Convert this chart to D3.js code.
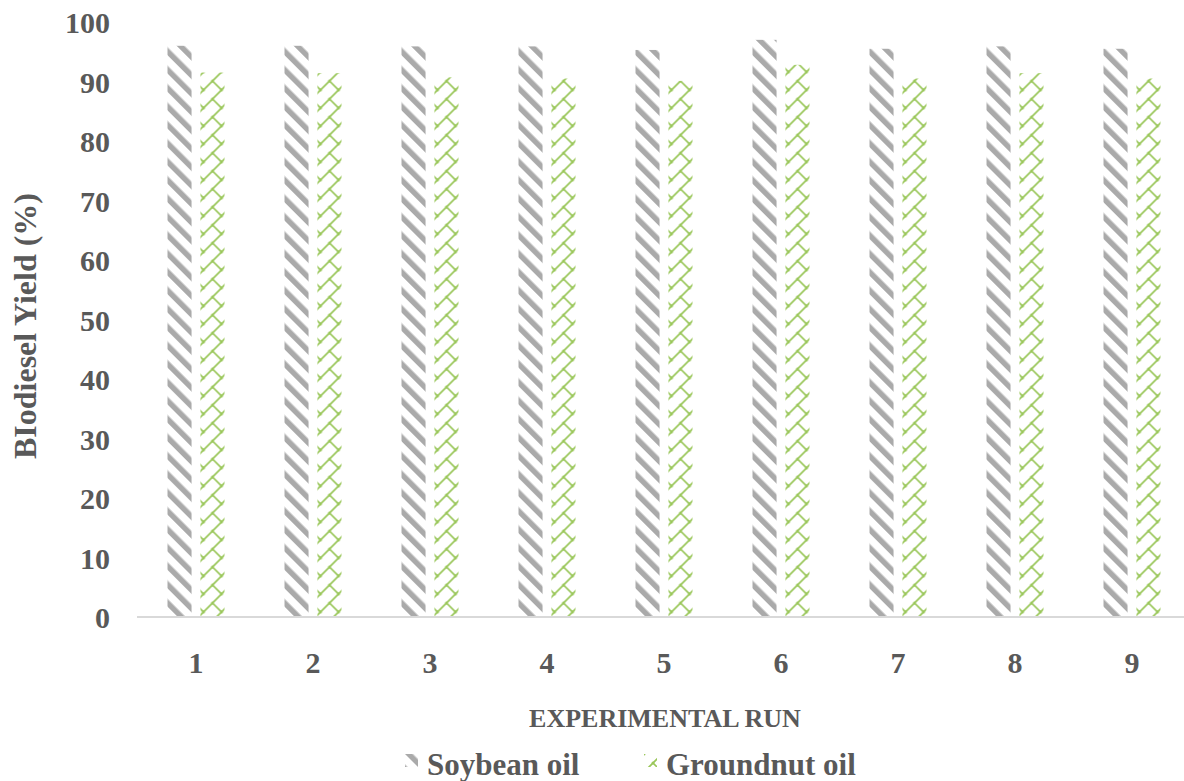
<!DOCTYPE html>
<html><head><meta charset="utf-8">
<script src="https://cdn.jsdelivr.net/npm/d3@7"></script>
<style>body{margin:0;background:#fff}svg{display:block}</style>
</head><body>
<svg id="c" width="1184" height="781"></svg>
<script>
const categories = ["1","2","3","4","5","6","7","8","9"];
const soybean   = [96.0, 96.0, 95.9, 95.9, 95.3, 97.0, 95.5, 95.9, 95.5];
const groundnut = [91.5, 91.4, 90.7, 90.5, 90.1, 92.8, 90.5, 91.4, 90.5];
const seriesNames = ["Soybean oil", "Groundnut oil"];
const yTicks = [0,10,20,30,40,50,60,70,80,90,100];

const svg = d3.select("#c");
const font = "'Liberation Serif','Times New Roman',serif";
const txt = "#595959";

const defs = svg.append("defs");
const p1 = defs.append("pattern").attr("id","soy").attr("patternUnits","userSpaceOnUse")
  .attr("width",13).attr("height",13).attr("patternTransform","rotate(-45)");
p1.append("rect").attr("width",13).attr("height",13).attr("fill","#fff");
p1.append("rect").attr("x",0).attr("width",5.5).attr("height",13).attr("fill","#aaaaaa");
const gc = "#9ac75a";
const p2 = defs.append("pattern").attr("id","gnut").attr("patternUnits","userSpaceOnUse")
  .attr("width",18).attr("height",18);
p2.append("rect").attr("width",18).attr("height",18).attr("fill","#fff");
p2.append("path").attr("d","M-2,20 L20,-2 M9,9 L18,18 M-9,9 L0,18 M9,-9 L18,0")
  .attr("stroke",gc).attr("stroke-width",1.7).attr("fill","none");
[[9,9],[0,18],[18,0],[18,18],[0,0]].forEach(([cx,cy])=>
  p2.append("circle").attr("cx",cx).attr("cy",cy).attr("r",1.5).attr("fill",gc));
const fills = ["url(#soy)","url(#gnut)"];

const y = d3.scaleLinear().domain([0,100]).range([617,22]);
const x0 = d3.scaleBand().domain(categories).range([137.5,1190.5]).paddingInner(0.513).paddingOuter(0.2565);
const x1 = d3.scaleBand().domain(seriesNames).range([0,x0.bandwidth()]).paddingInner(0.27);

const data = categories.map((c,i)=>({cat:c, vals:[soybean[i], groundnut[i]]}));
const g = svg.selectAll("g.cat").data(data).enter().append("g")
  .attr("transform",d=>`translate(${x0(d.cat)},0)`);
g.selectAll("rect").data(d=>d.vals.map((v,j)=>({v,name:seriesNames[j],j}))).enter().append("rect")
  .attr("x",d=>x1(d.name)).attr("width",x1.bandwidth())
  .attr("y",d=>y(d.v)).attr("height",d=>y(0)-y(d.v))
  .attr("fill",d=>fills[d.j]);

// x axis line
svg.append("line").attr("x1",137).attr("x2",1190).attr("y1",y(0)).attr("y2",y(0))
  .attr("stroke","#d9d9d9").attr("stroke-width",2);

// y tick labels
const yAxis = svg.append("g").attr("transform","translate(110,0)")
  .call(d3.axisLeft(y).tickValues(yTicks).tickSize(0).tickPadding(0));
yAxis.select(".domain").remove();
yAxis.selectAll("text").attr("font-family",font).attr("font-weight","bold")
  .attr("font-size",30).attr("fill",txt).attr("dy","0.35em");

// x tick labels
const xAxis = svg.append("g").attr("transform",`translate(0,${y(0)})`)
  .call(d3.axisBottom(x0).tickSize(0).tickPadding(0));
xAxis.select(".domain").remove();
xAxis.selectAll("text").attr("font-family",font).attr("font-weight","bold")
  .attr("font-size",30).attr("fill",txt).attr("y",56).attr("dy","0");

svg.append("text").attr("x",665).attr("y",727).attr("text-anchor","middle")
  .attr("font-family",font).attr("font-weight","bold").attr("font-size",26).attr("fill",txt)
  .text("EXPERIMENTAL RUN");
svg.append("text").attr("transform","translate(36,326) rotate(-90)").attr("text-anchor","middle")
  .attr("font-family",font).attr("font-weight","bold").attr("font-size",32).attr("fill",txt)
  .text("BIodiesel Yield (%)");

// legend
const legX = [405, 644];
const lg = svg.selectAll("g.leg").data(seriesNames).enter().append("g")
  .attr("transform",(d,i)=>`translate(${legX[i]},754)`);
lg.append("rect").attr("width",13).attr("height",13).attr("fill",(d,i)=>fills[i]);
lg.append("text").attr("x",22).attr("y",21).attr("font-family",font).attr("font-weight","bold")
  .attr("font-size",31).attr("fill",txt).text(d=>d);
</script>
</body></html>
